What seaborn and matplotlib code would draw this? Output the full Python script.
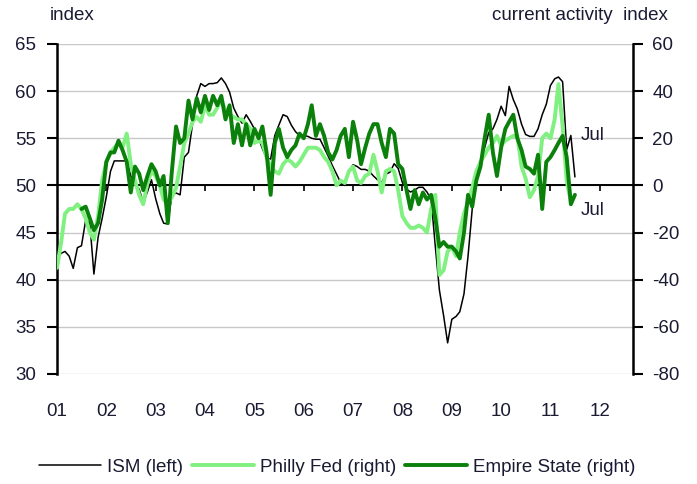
import pandas as pd
import matplotlib
matplotlib.use("Agg")
import matplotlib.pyplot as plt
import seaborn as sns

# Style: white background, Arial-like font (set after set_theme)
sns.set_theme(style="white")
plt.rcParams["font.family"] = ["Liberation Sans", "DejaVu Sans"]
plt.rcParams["axes.unicode_minus"] = False

# ISM manufacturing index (left axis), monthly Jan 2001 - Jul 2011
ism = [
    42.3, 42.8, 43.0, 42.5, 41.2, 43.4, 43.6, 46.3, 46.0, 40.6, 44.5, 46.5,  # 2001
    48.8, 51.5, 52.6, 52.6, 52.6, 52.6, 51.0, 50.2, 49.6, 48.2, 49.3, 50.6,  # 2002
    48.6, 47.0, 46.0, 45.9, 49.0, 49.2, 49.0, 53.0, 53.5, 56.5, 59.5, 60.8,  # 2003
    60.5, 60.8, 60.8, 60.9, 61.4, 60.8, 59.9, 58.2, 57.3, 56.6, 57.5, 56.8,  # 2004
    56.0, 55.0, 53.9, 52.9, 52.8, 55.3, 56.4, 57.5, 57.3, 56.4, 55.7, 55.3,  # 2005
    55.3, 55.2, 55.0, 54.9, 54.9, 54.0, 53.1, 52.1, 51.2, 50.3, 50.0, 51.5,  # 2006
    52.2, 52.0, 51.7, 51.7, 51.5, 51.0, 50.6, 50.3, 51.2, 51.4, 52.3, 51.8,  # 2007
    50.3, 49.6, 49.3, 49.5, 49.8, 49.8, 49.3, 48.5, 43.5, 38.9, 36.2, 33.3,  # 2008
    35.8, 36.1, 36.6, 38.5, 42.5, 47.5, 50.5, 52.5, 54.0, 55.6, 56.0, 57.0,  # 2009
    58.4, 57.4, 60.5, 59.1, 58.1, 56.5, 55.4, 55.2, 55.2, 56.0, 57.5, 58.6,  # 2010
    60.6, 61.3, 61.5, 61.0, 53.8, 55.3, 50.9,                                # 2011
]

# Philly Fed current activity (right axis), Jan 2001 - Jun 2011
philly = [
    -35, -24, -12, -10, -10, -8, -10, -14, -20, -23, -13, 2,   # 2001
    10, 14, 16, 18, 16, 22, 9, 2, -4, -8, 1, 6,                # 2002
    4, 0, -6, -8, -5, -1, 8, 18, 22, 27, 29, 27,               # 2003
    34, 30, 30, 33, 36, 32, 30, 29, 28, 28, 26, 24,            # 2004
    18, 19, 18, 12, 8, 6, 5, 9, 11, 10, 8, 10,                 # 2005
    13, 16, 16, 16, 15, 12, 10, 6, 0, 2, 1, 6,                 # 2006
    8, 2, 1, 4, 5, 13, 6, -3, 6, 7, 6, -2,                     # 2007
    -13, -16, -18, -18, -17, -18, -20, -10, -4, -38, -36, -28, # 2008
    -26, -30, -20, -12, -7, -1, 6, 10, 13, 16, 18, 21,         # 2009
    17, 19, 20, 21, 21, 8, 3, -5, -2, 4, 20, 22,               # 2010
    20, 28, 43, 25, 2, -7,                                     # 2011
]

# Empire State current activity (right axis), Jul 2001 - Jul 2011
empire = [
    -10, -9, -14, -19, -16, -6,                                # 2001 (Jul-Dec)
    10, 14, 14, 19, 15, 10, -3, 8, 5, -2, 4, 9,                # 2002
    6, 0, 4, -16, 6, 25, 18, 20, 36, 28, 37, 31,               # 2003
    38, 32, 38, 34, 38, 28, 34, 18, 26, 17, 26, 17,            # 2004
    24, 20, 25, 14, -4, 18, 24, 16, 12, 15, 17, 22,            # 2005
    20, 26, 34, 21, 26, 21, 14, 11, 15, 21, 24, 12,            # 2006
    27, 19, 9, 16, 22, 26, 26, 18, 12, 24, 22, 9,              # 2007
    7, -2, -10, -2, -8, -3, -6, -4, -14, -26, -24, -26,        # 2008
    -26, -28, -31, -20, -4, -9, 2, 8, 20, 30, 14, 4,           # 2009
    16, 24, 27, 30, 20, 15, 8, 7, 5, 13, -10, 10,              # 2010
    12, 15, 18, 21, 12, -8, -4,                                # 2011
]

year_labels = ["01", "02", "03", "04", "05", "06", "07", "08", "09", "10", "11", "12"]
left_ticks = [30, 35, 40, 45, 50, 55, 60, 65]
right_ticks = [-80, -60, -40, -20, 0, 20, 40, 60]

ism_df = pd.DataFrame({"date": pd.date_range("2001-01-01", periods=len(ism), freq="MS"), "value": ism})
philly_df = pd.DataFrame({"date": pd.date_range("2001-01-01", periods=len(philly), freq="MS"), "value": philly})
empire_df = pd.DataFrame({"date": pd.date_range("2001-07-01", periods=len(empire), freq="MS"), "value": empire})

TEXT = "#1a1a33"
FS = 13.5

fig = plt.figure(figsize=(6.97, 4.84), dpi=100)
ax = fig.add_axes([0.0818, 0.2273, 0.8264, 0.6818])
ax2 = ax.twinx()

sns.lineplot(data=ism_df, x="date", y="value", ax=ax, color="black", lw=1.1,
             label="ISM (left)", legend=False)
sns.lineplot(data=philly_df, x="date", y="value", ax=ax2, color="#80f080", lw=2.8,
             label="Philly Fed (right)", legend=False)
sns.lineplot(data=empire_df, x="date", y="value", ax=ax2, color="#0b800b", lw=2.8,
             label="Empire State (right)", legend=False)

# axes ranges
ax.set_xlim(pd.Timestamp("2001-01-01"), pd.Timestamp("2012-09-03"))
ax.set_ylim(30, 65)
ax2.set_ylim(-80, 60)
ax.set_xlabel("")
ax.set_ylabel("")
ax2.set_ylabel("")

# grid + zero line with year ticks
ax.set_yticks(left_ticks)
ax.yaxis.grid(True, color="#c8c8c8", lw=1.0)
ax.set_axisbelow(True)
ax.axhline(50, color="black", lw=1.4, zorder=1.5)
year_starts = pd.date_range("2001-01-01", periods=len(year_labels), freq="YS")
ax.vlines(year_starts[1:], 49.45, 50, color="black", lw=1.2)

ax.set_xticks(year_starts)
ax.set_xticklabels(year_labels)
ax.tick_params(axis="x", length=0, pad=21, labelsize=FS, labelcolor=TEXT)
ax.tick_params(axis="y", left=True, direction="out", length=7, width=1.5,
               color="black", labelsize=FS, pad=8, labelcolor=TEXT)

ax2.set_yticks(right_ticks)
ax2.tick_params(axis="y", right=True, direction="out", length=7, width=1.5,
                color="black", labelsize=FS, pad=7, labelcolor=TEXT)

for a in (ax, ax2):
    for s in ("top", "bottom"):
        a.spines[s].set_visible(False)
ax.spines["right"].set_visible(False)
ax2.spines["left"].set_visible(False)
ax.spines["left"].set_color("black")
ax.spines["left"].set_linewidth(1.8)
ax2.spines["right"].set_color("black")
ax2.spines["right"].set_linewidth(1.8)

# axis titles and annotations
fig.text(0.0717, 0.967, "index", ha="left", va="center", fontsize=FS, color=TEXT)
fig.text(0.958, 0.967, "current activity  index", ha="right", va="center", fontsize=FS, color=TEXT)
fig.text(0.8336, 0.721, "Jul", ha="left", va="center", fontsize=FS, color=TEXT)
fig.text(0.8336, 0.566, "Jul", ha="left", va="center", fontsize=FS, color=TEXT)

# legend
h1, l1 = ax.get_legend_handles_labels()
h2, l2 = ax2.get_legend_handles_labels()
fig.legend(h1 + h2, l1 + l2, loc="center", bbox_to_anchor=(0.484, 0.035), ncol=3,
           frameon=False, handlelength=3.3, handletextpad=0.3, columnspacing=0.5,
           fontsize=FS, labelcolor=TEXT)

fig.savefig("out.png", dpi=100)
